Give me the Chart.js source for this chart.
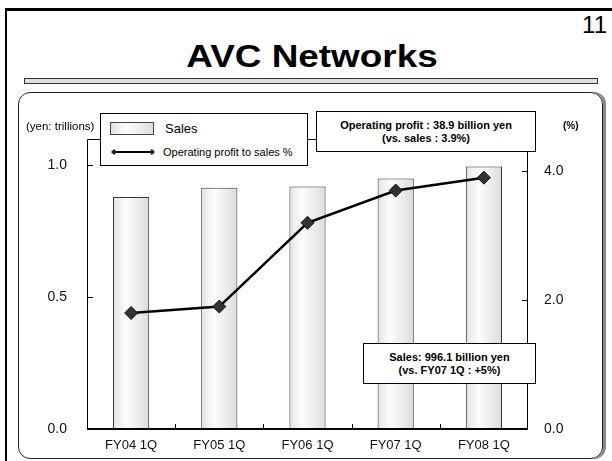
<!DOCTYPE html>
<html>
<head>
<meta charset="utf-8">
<script src="https://cdn.jsdelivr.net/npm/chart.js@4.4.1/dist/chart.umd.min.js"></script>
<style>
  html, body { margin: 0; padding: 0; }
  body {
    width: 612px; height: 461px; position: relative; overflow: hidden;
    background: #fff; font-family: 'Liberation Sans', Arial, sans-serif; color: #000;
  }
  .abs { position: absolute; }
  #frame { left: 5px; top: 8px; width: 800px; height: 800px; border-top: 3px solid #000; border-left: 2px solid #000; }
  #pageNo { right: 5px; top: 13px; font-size: 24px; line-height: 24px; }
  #title {
    left: 0; top: 41px; width: 624px; text-align: center; font-size: 31px; line-height: 31px;
    font-weight: bold; transform: scaleX(1.19); transform-origin: 312px 0;
  }
  #titleBar { left: 24px; top: 78px; width: 574px; height: 6px; box-sizing: border-box; border: 1px solid #333; background: #dedede; }
  #panel {
    left: 18px; top: 92px; width: 585px; height: 367px; box-sizing: border-box;
    border: 1px solid #222; border-radius: 12px; box-shadow: 3px 0 0 #888;
  }
  #chartWrap { left: 0; top: 0; width: 612px; height: 461px; }
  .box {
    box-sizing: border-box; background: #fff; border: 1.5px solid #000;
    display: flex; flex-direction: column; justify-content: center; align-items: center;
    font-weight: bold; font-size: 11px; line-height: 13px; text-align: center;
  }
  #legend { left: 100px; top: 113px; width: 208px; height: 53px; box-sizing: border-box; background: #fff; border: 1px solid #000; }
  #legend .swatch {
    position: absolute; left: 9px; top: 8px; width: 44px; height: 13px; box-sizing: border-box;
    border: 1px solid #444; background: linear-gradient(to right, #e2e2e2, #fdfdfd 35%, #dedede);
  }
  #legend .t1 { position: absolute; left: 64px; top: 7px; font-size: 13px; line-height: 16px; }
  #legend .t2 { position: absolute; left: 62px; top: 31px; font-size: 11px; line-height: 14px; }
  #legend svg { position: absolute; left: 10px; top: 32px; }
</style>
</head>
<body>
<div id="frame" class="abs"></div>
<div id="pageNo" class="abs">11</div>
<div id="title" class="abs">AVC Networks</div>
<div id="titleBar" class="abs"></div>
<div id="panel" class="abs"></div>

<div id="chartWrap" class="abs"><canvas id="mainChart" width="612" height="461"></canvas></div>

<div class="abs" style="left:26px; top:119px; font-size:11.5px; line-height:14px;">(yen: trillions)</div>
<div class="abs" style="left:563px; top:119px; font-size:10px; line-height:14px; font-weight:bold;">(%)</div>

<div id="legend" class="abs">
  <div class="swatch"></div>
  <div class="t1">Sales</div>
  <svg width="46" height="12" viewBox="0 0 46 12">
    <line x1="3" y1="6" x2="41" y2="6" stroke="#000" stroke-width="2"/>
    <polygon points="3,3 6,6 3,9 0,6" fill="#222"/>
    <polygon points="41,3 44,6 41,9 38,6" fill="#222"/>
  </svg>
  <div class="t2">Operating profit to sales %</div>
</div>

<div class="abs box" style="left:316px; top:111px; width:220px; height:41px;">
  <div>Operating profit : 38.9 billion yen</div>
  <div>(vs. sales : 3.9%)</div>
</div>

<div class="abs box" style="left:363px; top:343px; width:173px; height:41px;">
  <div>Sales: 996.1 billion yen</div>
  <div>(vs. FY07 1Q : +5%)</div>
</div>

<script>
'use strict';

const categories     = ['FY04 1Q', 'FY05 1Q', 'FY06 1Q', 'FY07 1Q', 'FY08 1Q'];
const salesTrillions = [0.88, 0.915, 0.92, 0.95, 0.996];
const profitRatio    = [1.8, 1.9, 3.2, 3.7, 3.9];
const salesTicks     = [0, 0.5, 1.0];
const ratioTicks     = [0, 2, 4];

const BAR_PCT = 0.41;

Chart.defaults.font.family = "'Liberation Sans', Arial, sans-serif";
Chart.defaults.color = '#111';

// per-bar horizontal gradient, worked out from the x scale
function barFill(context) {
    const chart = context.chart;
    const xs = chart.scales.x;
    if (!chart.chartArea || !xs) return '#eee';
    const cx = xs.getPixelForValue(context.dataIndex);
    const half = xs.width / categories.length * BAR_PCT / 2;
    const g = chart.ctx.createLinearGradient(cx - half, 0, cx + half, 0);
    g.addColorStop(0, '#e2e2e2');
    g.addColorStop(0.35, '#fdfdfd');
    g.addColorStop(1, '#dcdcdc');
    return g;
}

// inner tick marks + plot frame
const framePlugin = {
    id: 'frame',
    afterDraw(chart) {
        const { ctx, chartArea: { left, right, top, bottom }, scales } = chart;
        ctx.save();
        ctx.strokeStyle = '#000';
        ctx.lineWidth = 1;
        ctx.beginPath();
        ctx.moveTo(left + 0.5, bottom); ctx.lineTo(left + 0.5, top + 0.5);
        ctx.lineTo(right - 0.5, top + 0.5); ctx.lineTo(right - 0.5, bottom);
        salesTicks.forEach(v => {
            const py = Math.round(scales.y.getPixelForValue(v)) + 0.5;
            ctx.moveTo(left, py); ctx.lineTo(left + 6, py);
        });
        ratioTicks.forEach(v => {
            const py = Math.round(scales.y1.getPixelForValue(v)) + 0.5;
            ctx.moveTo(right - 6, py); ctx.lineTo(right, py);
        });
        for (let i = 1; i < categories.length; i++) {
            const px = Math.round((scales.x.getPixelForValue(i - 1) + scales.x.getPixelForValue(i)) / 2) + 0.5;
            ctx.moveTo(px, bottom); ctx.lineTo(px, bottom - 5);
        }
        ctx.stroke();
        ctx.lineWidth = 2;
        ctx.beginPath();
        ctx.moveTo(left, bottom); ctx.lineTo(right, bottom);
        ctx.stroke();
        ctx.restore();
    }
};

new Chart(document.getElementById('mainChart').getContext('2d'), {
    data: {
        labels: categories,
        datasets: [
            {
                type: 'line',
                label: 'Operating profit to sales %',
                data: profitRatio,
                yAxisID: 'y1',
                order: 0,
                borderColor: '#000',
                borderWidth: 2.5,
                tension: 0,
                pointStyle: 'rectRot',
                pointRadius: 6.5,
                pointBackgroundColor: '#333',
                pointBorderColor: '#111',
                pointBorderWidth: 1
            },
            {
                type: 'bar',
                label: 'Sales',
                data: salesTrillions,
                yAxisID: 'y',
                order: 1,
                backgroundColor: barFill,
                borderColor: '#333',
                borderWidth: 1,
                categoryPercentage: 1,
                barPercentage: BAR_PCT
            }
        ]
    },
    options: {
        responsive: false,
        animation: false,
        layout: { padding: { top: 139, left: 20, right: 20, bottom: 0 } },
        plugins: { legend: { display: false }, tooltip: { enabled: false } },
        scales: {
            x: {
                offset: true,
                grid: { display: false, drawTicks: false },
                border: { display: false },
                ticks: { font: { size: 13 }, color: '#111', padding: 9, maxRotation: 0 },
                afterFit: s => { s.height = 32; }
            },
            y: {
                position: 'left',
                min: 0, max: 1.1,
                grid: { display: false, drawTicks: false },
                border: { display: false },
                afterBuildTicks: s => { s.ticks = salesTicks.map(v => ({ value: v })); },
                ticks: { font: { size: 14 }, color: '#111', padding: 20, callback: v => v.toFixed(1) },
                afterFit: s => { s.width = 67; }
            },
            y1: {
                position: 'right',
                min: 0, max: 4.5,
                grid: { display: false, drawTicks: false },
                border: { display: false },
                afterBuildTicks: s => { s.ticks = ratioTicks.map(v => ({ value: v })); },
                ticks: { font: { size: 14 }, color: '#111', padding: 16, callback: v => v.toFixed(1) },
                afterFit: s => { s.width = 64; }
            }
        }
    },
    plugins: [framePlugin]
});
</script>
</body>
</html>
